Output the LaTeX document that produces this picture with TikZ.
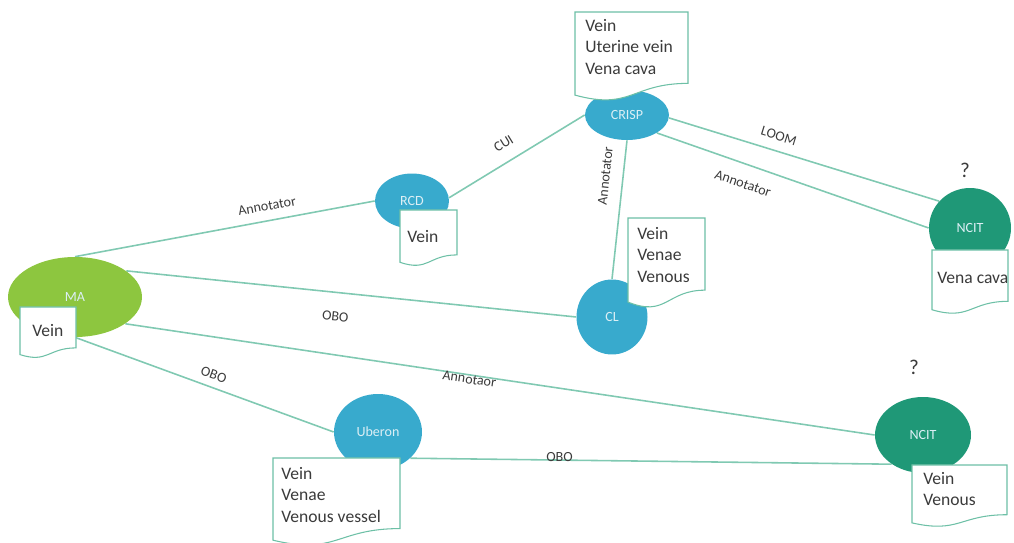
\documentclass[tikz,border=0pt]{standalone}
\usepackage{fontspec}
\setmainfont{Carlito}
\usetikzlibrary{shapes.geometric}

\definecolor{ontoblue}{HTML}{38AACD}
\definecolor{ontogreen}{HTML}{8DC63F}
\definecolor{ncitgreen}{HTML}{1F9877}
\definecolor{linkcol}{HTML}{80C9B2}
\definecolor{doccol}{HTML}{6DC0A6}
\definecolor{inktext}{HTML}{3B3B3B}
\definecolor{nodetext}{HTML}{DCEFF5}

\pgfdeclarelayer{links}
\pgfsetlayers{links,main}

\tikzset{
  onto/.style={ellipse, inner sep=0pt, font=\fontsize{8}{9.6}\selectfont, text=nodetext},
  link/.style={draw=linkcol, line width=0.9pt},
  lab/.style={sloped, font=\fontsize{8}{9.6}\selectfont, text=inktext},
  docline/.style={draw=doccol, line width=0.6pt, fill=white},
  doctext/.style={anchor=north west, inner sep=0pt, align=left,
    font=\fontsize{10}{12.2}\selectfont, text=inktext},
  qmark/.style={font=\fontsize{12}{14}\selectfont, text=inktext, inner sep=0pt},
}

% document-shaped frame: left x, top y, right x, height
\newcommand{\docframe}[4]{%
  \draw[docline] (#1,#2) -- (#3,#2) -- (#3,{#2+0.802*#4})
    .. controls ({(#1+#3)/2},{#2+0.802*#4}) and ({(#1+#3)/2},{#2+1.1075*#4})
    .. (#1,{#2+0.934*#4}) -- cycle;}

\begin{document}
\begin{tikzpicture}[x=0.02cm, y=-0.02cm]
\useasboundingbox (0,0) rectangle (1014,543);

% ontology nodes
\node[onto, fill=ontogreen, minimum width=2.68cm, minimum height=1.6cm] (ma) at (75,297) {MA};
\node[onto, fill=ontoblue, minimum width=1.48cm, minimum height=1.1cm] (rcd) at (412,201) {RCD};
\node[onto, fill=ontoblue, minimum width=1.68cm, minimum height=1.0cm] (crisp) at (627,115) {CRISP};
\node[onto, fill=ontoblue, minimum width=1.42cm, minimum height=1.5cm] (cl) at (612,317) {CL};
\node[onto, fill=ncitgreen, minimum width=1.64cm, minimum height=1.6cm] (ncitA) at (970,228) {NCIT};
\node[onto, fill=ncitgreen, minimum width=1.92cm, minimum height=1.52cm] (ncitB) at (923,435) {NCIT};
\node[onto, fill=ontoblue, minimum width=1.76cm, minimum height=1.52cm] (uberon) at (378,432) {Uberon};

% mappings between ontologies
\begin{pgfonlayer}{links}
\draw[link] (ma.north) -- node[lab, pos=.65, above, inner sep=5.3pt] {Annotator} (rcd.west);
\draw[link] (rcd.5) -- node[lab, pos=.47, above, inner sep=2pt, yshift=5pt] {CUI} (crisp.west);
\draw[link] (crisp.south) -- node[lab, pos=.27, above, inner sep=7pt] {Annotator} (cl.north);
\draw[link] (crisp.-4) -- node[lab, pos=.39, above, inner sep=5.5pt] {LOOM} (ncitA.139);
\draw[link] (crisp.-31) -- node[lab, pos=.34, below, inner sep=8pt] {Annotator} (ncitA.west);
\draw[link] (ma.27) -- node[lab, pos=.47, below, inner sep=10.5pt] {OBO} (cl.west);
\draw[link] (ma.-28) -- node[lab, pos=.46, below, inner sep=-0.6pt] {Annotaor} (ncitB.west);
\draw[link] (ma.south) -- node[lab, pos=.52, above, inner sep=4pt] {OBO} (uberon.west);
\draw[link] (uberon.-39) -- node[lab, pos=.31, above, inner sep=-1.2pt] {OBO} (ncitB.223);
\end{pgfonlayer}

% term lists
\docframe{575}{12}{688}{89}
\node[doctext] (crispterms) at (585,19) {Vein\\Uterine vein\\Vena cava};
\docframe{400}{210}{457}{56}
\node[doctext] (rcdterms) at (407,230) {Vein};
\docframe{20}{307}{76}{51}
\node[doctext] (materms) at (32,324) {Vein};
\docframe{628}{218}{705}{90}
\node[doctext] (clterms) at (637,227) {Vein\\Venae\\Venous};
\docframe{932}{250}{1008}{64}
\node[doctext] (ncitAterms) at (937,272) {Vena cava};
\docframe{273}{458}{400}{88}
\node[doctext] (uberonterms) at (281,467) {Vein\\Venae\\Venous vessel};
\docframe{912}{465}{1007}{62}
\node[doctext] (ncitBterms) at (923,472) {Vein\\Venous};

% unresolved mappings
\node[qmark] (qa) at (965,170) {?};
\node[qmark] (qb) at (914,367) {?};
\end{tikzpicture}
\end{document}
